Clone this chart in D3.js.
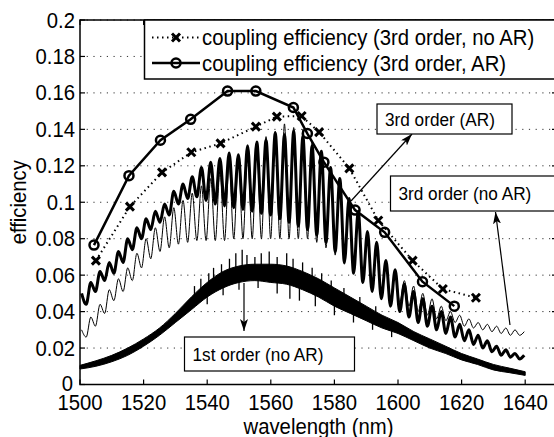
<!DOCTYPE html>
<html><head><meta charset="utf-8">
<script src="https://cdn.jsdelivr.net/npm/d3@7"></script>
<style>
html,body{margin:0;padding:0;background:#fff;}
svg{display:block;font-family:"Liberation Sans",Arial,Helvetica,sans-serif;}
</style></head>
<body>
<svg id="chart" width="554" height="437"></svg>
<script>
// ---------------- data ----------------
const xTicks = [1500,1520,1540,1560,1580,1600,1620,1640];
const yTicks = [0,0.02,0.04,0.06,0.08,0.1,0.12,0.14,0.16,0.18,0.2];

// coupling efficiency (3rd order, AR) — circles
const ceARwl  = [1504.4,1515.4,1525.3,1534.8,1546.4,1555.3,1567.1,1571.5,1576.7,1586.5,1595.8,1607.7,1617.7];
const ceARval = [0.0765,0.1146,0.134,0.1455,0.161,0.161,0.152,0.1377,0.122,0.0957,0.0835,0.0564,0.043];

// coupling efficiency (3rd order, no AR) — crosses
const ceNoARwl  = [1505.0,1515.7,1525.8,1535.0,1544.2,1555.3,1561.9,1569.7,1575.2,1584.7,1593.8,1604.6,1614.1,1624.5];
const ceNoARval = [0.068,0.0976,0.1164,0.1274,0.1323,0.1415,0.147,0.1473,0.1385,0.1186,0.090,0.068,0.0524,0.0476];

// Fabry-Perot fringe maxima positions (nm)
const fringeWl = [1500.5,1503.4,1506.3,1509.2,1512.1,1515.0,1517.9,1520.8,1523.7,1526.6,
  1529.5,1532.4,1535.3,1538.2,1541.1,1544.0,1546.9,1549.8,1552.7,1555.6,
  1558.5,1561.4,1564.3,1567.2,1570.1,1573.0,1575.9,1578.8,1581.7,1584.6,
  1587.5,1590.4,1593.3,1596.2,1599.1,1602.0,1604.9,1607.8,1610.7,1613.6,
  1616.5,1619.4,1622.3,1625.2,1628.1,1631.0,1633.9,1636.8,1639.7];

// 3rd order, AR (thick measured trace): fringe maxima and minima between them
const arPeaks = [0.050,0.056,0.062,0.067,0.073,0.080,0.086,0.091,0.095,0.099,
  0.106,0.110,0.114,0.119,0.122,0.124,0.127,0.126,0.131,0.133,
  0.134,0.138,0.137,0.139,0.136,0.131,0.128,0.119,0.113,0.102,
  0.095,0.084,0.078,0.068,0.063,0.055,0.051,0.047,0.043,0.040,
  0.037,0.033,0.030,0.027,0.024,0.021,0.019,0.017,0.016];
const arTroughs = [0.044,0.051,0.057,0.061,0.067,0.074,0.080,0.085,0.089,0.093,
  0.099,0.102,0.103,0.101,0.099,0.098,0.097,0.096,0.095,0.094,
  0.093,0.091,0.089,0.087,0.085,0.082,0.078,0.073,0.067,0.061,
  0.056,0.051,0.047,0.043,0.040,0.037,0.034,0.032,0.030,0.028,
  0.026,0.024,0.022,0.020,0.018,0.016,0.015,0.014];

// 3rd order, no AR (thin measured trace)
const noArPeaks = [0.030,0.037,0.044,0.052,0.058,0.064,0.072,0.080,0.086,0.092,
  0.097,0.101,0.105,0.109,0.113,0.117,0.121,0.124,0.127,0.131,
  0.136,0.139,0.143,0.141,0.140,0.133,0.128,0.118,0.111,0.100,
  0.093,0.082,0.076,0.067,0.062,0.057,0.054,0.050,0.047,0.043,
  0.040,0.038,0.036,0.034,0.033,0.032,0.031,0.030,0.029];
const noArTroughs = [0.026,0.032,0.039,0.046,0.051,0.057,0.064,0.069,0.073,0.075,
  0.077,0.078,0.079,0.079,0.079,0.079,0.080,0.080,0.080,0.080,
  0.080,0.080,0.080,0.080,0.080,0.078,0.075,0.071,0.066,0.061,
  0.057,0.053,0.050,0.047,0.045,0.043,0.040,0.038,0.036,0.035,
  0.034,0.032,0.031,0.030,0.029,0.028,0.027,0.027];

// 1st order, no AR (noisy band): upper/lower edges of the dense body
const firstWl    = [1500,1505,1510,1515,1520,1525,1530,1535,1540,1545,1550,1555,1560,1565,1570,1575,1580,1585,1590,1595,1600,1605,1610,1615,1620,1625,1630,1635,1640];
const firstUpper = [0.0105,0.013,0.016,0.020,0.025,0.031,0.039,0.048,0.056,0.062,0.065,0.066,0.066,0.065,0.062,0.058,0.053,0.048,0.043,0.038,0.034,0.029,0.025,0.021,0.017,0.014,0.011,0.009,0.007];
const firstLower = [0.0085,0.010,0.0125,0.016,0.021,0.027,0.034,0.041,0.048,0.053,0.056,0.057,0.056,0.055,0.052,0.048,0.043,0.039,0.035,0.031,0.028,0.024,0.020,0.017,0.0135,0.011,0.008,0.0065,0.005];
// noise spikes sticking out of the 1st order band: [wavelength, tip value]
const firstSpikes = [[1536,0.054],[1538,0.058],[1540.5,0.061],[1542,0.064],[1544.5,0.066],[1547,0.069],[1549,0.072],
  [1551,0.074],[1552.5,0.071],[1555,0.070],[1557,0.072],[1559.5,0.073],[1562,0.070],[1565,0.072],
  [1567,0.069],[1570,0.067],[1573,0.064],[1576,0.061],[1579,0.057],[1583,0.053],[1588,0.048],[1593,0.043],
  [1540,0.044],[1545,0.049],[1550,0.052],[1556,0.053],[1562,0.050],[1566,0.047],[1569,0.046],
  [1574,0.043],[1580,0.038],[1586,0.034],[1592,0.030],[1598,0.026]];

const legendLabels = ["coupling efficiency (3rd order, no AR)","coupling efficiency (3rd order, AR)"];
const annotations = ["3rd order (AR)","3rd order (no AR)","1st order (no AR)"];

// ---------------- drawing ----------------
const svg = d3.select("#chart");
const FONT = 20.3, STRETCH = 1.05;
const x = d3.scaleLinear().domain([1500,1650]).range([80,557]);
const y = d3.scaleLinear().domain([0,0.2]).range([384.5,20]);
const L = x.range()[0], R = x.range()[1], T = y.range()[1], B = y.range()[0];

function label(g, tx, ty, str, anchor, size, rot){
  return g.append("text")
    .attr("transform",`translate(${tx},${ty})${rot?` rotate(${rot})`:""} scale(1,${STRETCH})`)
    .attr("text-anchor",anchor).attr("font-size",size).text(str);
}

// grid (horizontal dotted)
svg.append("g").selectAll("line").data(yTicks.filter(v=>v>0)).join("line")
  .attr("x1",L).attr("x2",R).attr("y1",d=>y(d)).attr("y2",d=>y(d))
  .attr("stroke","#333").attr("stroke-width",1).attr("stroke-dasharray","1.2,5.5");

function fringeTrace(peaks, troughs){
  const pts = [];
  for(let i=0;i<fringeWl.length;i++){
    pts.push([fringeWl[i], peaks[i]]);
    if(i<troughs.length) pts.push([(fringeWl[i]+fringeWl[i+1])/2, troughs[i]]);
  }
  return pts;
}
const lineGen = d3.line().x(d=>x(d[0])).y(d=>y(d[1])).curve(d3.curveMonotoneX);

// 1st order band
const firstData = firstWl.map((w,i)=>({w, u:firstUpper[i], l:firstLower[i]}));
svg.append("path").datum(firstData)
  .attr("d", d3.area().x(d=>x(d.w)).y0(d=>y(d.l)).y1(d=>y(d.u)).curve(d3.curveMonotoneX))
  .attr("fill","#000").attr("stroke","#000").attr("stroke-width",1);
const firstMid = d3.scaleLinear().domain(firstWl).range(firstWl.map((w,i)=>(firstUpper[i]+firstLower[i])/2));
svg.append("g").selectAll("line").data(firstSpikes).join("line")
  .attr("x1",d=>x(d[0])).attr("x2",d=>x(d[0]))
  .attr("y1",d=>y(firstMid(d[0]))).attr("y2",d=>y(d[1]))
  .attr("stroke","#000").attr("stroke-width",1.3);

// 3rd order AR (thick)
svg.append("path").datum(fringeTrace(arPeaks, arTroughs))
  .attr("d", lineGen).attr("fill","none").attr("stroke","#000").attr("stroke-width",3).attr("stroke-linejoin","round");
// 3rd order no AR (thin)
svg.append("path").datum(fringeTrace(noArPeaks, noArTroughs))
  .attr("d", lineGen).attr("fill","none").attr("stroke","#000").attr("stroke-width",1);

// coupling efficiency no AR (dotted + crosses)
const noArPts = ceNoARwl.map((w,i)=>[w, ceNoARval[i]]);
svg.append("path").datum(noArPts)
  .attr("d", d3.line().x(d=>x(d[0])).y(d=>y(d[1])))
  .attr("fill","none").attr("stroke","#000").attr("stroke-width",2).attr("stroke-dasharray","1.5,3.5");
function cross(g, cx, cy){
  const s=4;
  g.append("path").attr("d",`M${cx-s},${cy-s}L${cx+s},${cy+s}M${cx-s},${cy+s}L${cx+s},${cy-s}`)
   .attr("stroke","#000").attr("stroke-width",3).attr("fill","none");
}
const crossG = svg.append("g");
noArPts.forEach(d=>cross(crossG, x(d[0]), y(d[1])));

// coupling efficiency AR (solid + circles)
const arPts = ceARwl.map((w,i)=>[w, ceARval[i]]);
svg.append("path").datum(arPts)
  .attr("d", d3.line().x(d=>x(d[0])).y(d=>y(d[1])))
  .attr("fill","none").attr("stroke","#000").attr("stroke-width",2.5);
svg.append("g").selectAll("circle").data(arPts).join("circle")
  .attr("cx",d=>x(d[0])).attr("cy",d=>y(d[1])).attr("r",4.5)
  .attr("fill","none").attr("stroke","#000").attr("stroke-width",2.5);

// axes box
svg.append("rect").attr("x",L).attr("y",T).attr("width",R-L).attr("height",B-T)
  .attr("fill","none").attr("stroke","#000").attr("stroke-width",1.5);

// ticks (inward) and labels
const tk = 5;
const axG = svg.append("g");
xTicks.forEach(v=>{
  axG.append("line").attr("x1",x(v)).attr("x2",x(v)).attr("y1",B).attr("y2",B-tk).attr("stroke","#000").attr("stroke-width",1.2);
  axG.append("line").attr("x1",x(v)).attr("x2",x(v)).attr("y1",T).attr("y2",T+tk).attr("stroke","#000").attr("stroke-width",1.2);
  label(axG, x(v), 409.5, String(v), "middle", FONT);
});
yTicks.forEach(v=>{
  axG.append("line").attr("x1",L).attr("x2",L+tk).attr("y1",y(v)).attr("y2",y(v)).attr("stroke","#000").attr("stroke-width",1.2);
  axG.append("line").attr("x1",R).attr("x2",R-tk).attr("y1",y(v)).attr("y2",y(v)).attr("stroke","#000").attr("stroke-width",1.2);
  label(axG, v===0 ? 73 : 75, y(v)+ (v===0 ? 6 : 7.5), String(+v.toFixed(2)), "end", FONT);
});
label(svg, (L+R)/2, 433.5, "wavelength (nm)", "middle", FONT);
label(svg, 26, (T+B)/2, "efficiency", "middle", FONT, -90);

// legend
const lg = svg.append("g");
lg.append("rect").attr("x",144.5).attr("y",20).attr("width",420).attr("height",59)
  .attr("fill","#fff").attr("stroke","#000").attr("stroke-width",1.5);
lg.append("line").attr("x1",152).attr("x2",200).attr("y1",37.5).attr("y2",37.5)
  .attr("stroke","#000").attr("stroke-width",2).attr("stroke-dasharray","1.5,3.5");
cross(lg,176,37.5);
lg.append("line").attr("x1",152).attr("x2",200).attr("y1",63).attr("y2",63)
  .attr("stroke","#000").attr("stroke-width",2.5);
lg.append("circle").attr("cx",176).attr("cy",63).attr("r",4.5).attr("fill","none").attr("stroke","#000").attr("stroke-width",2.5);
label(lg, 202, 45, legendLabels[0], "start", FONT);
label(lg, 202, 70.5, legendLabels[1], "start", FONT);

// annotations
const defs = svg.append("defs");
defs.append("marker").attr("id","ah").attr("viewBox","0 0 12 8").attr("refX",12).attr("refY",4)
  .attr("markerWidth",12).attr("markerHeight",8).attr("markerUnits","userSpaceOnUse").attr("orient","auto")
  .append("path").attr("d","M0,0L12,4L0,8L3,4Z").attr("fill","#000");
const ann = svg.append("g");
function arrow(x1,y1,x2,y2){
  ann.append("line").attr("x1",x1).attr("y1",y1).attr("x2",x2).attr("y2",y2)
    .attr("stroke","#000").attr("stroke-width",1.2).attr("marker-end","url(#ah)");
}
function box(bx,by,bw,bh,str){
  ann.append("rect").attr("x",bx).attr("y",by).attr("width",bw).attr("height",bh)
    .attr("fill","#fff").attr("stroke","#000").attr("stroke-width",1.2);
  label(ann, bx+8, by+bh/2+6.5, str, "start", 17.2);
}
arrow(351,201,412,134);
arrow(510,325,495.5,212);
arrow(244,283,244,331);
box(377,104,135,30,annotations[0]);
box(390.5,176,170,35,annotations[1]);
box(184.5,337,170,34,annotations[2]);
</script>
</body></html>
